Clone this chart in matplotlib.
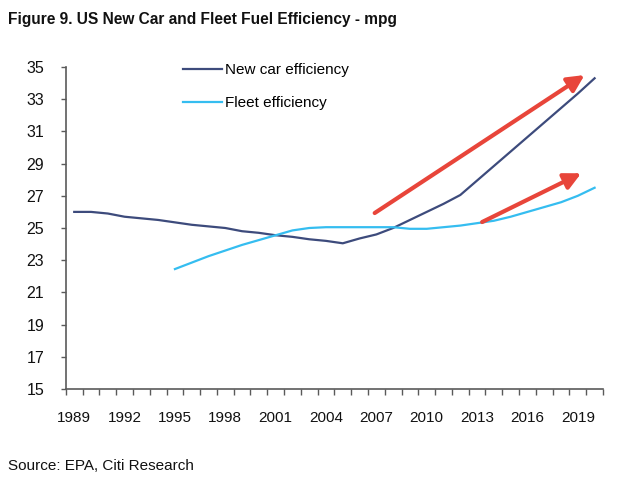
import matplotlib
matplotlib.use("Agg")
import matplotlib.pyplot as plt
from matplotlib.ticker import FixedLocator, NullFormatter

plt.rcParams['font.family'] = ['Liberation Sans', 'DejaVu Sans']

years = list(range(1989, 2021))
new_car = [26.0, 26.0, 25.9, 25.7, 25.6, 25.5, 25.35, 25.2, 25.1, 25.0,
           24.8, 24.7, 24.55, 24.45, 24.3, 24.2, 24.05, 24.35, 24.6, 25.0,
           25.5, 26.0, 26.5, 27.05, 27.95, 28.85, 29.75, 30.65, 31.55, 32.45,
           33.35, 34.3]
fleet_years = list(range(1995, 2021))
fleet = [22.45, 22.85, 23.25, 23.6, 23.95, 24.25, 24.55, 24.85, 25.0, 25.05,
         25.05, 25.05, 25.05, 25.05, 24.95, 24.95, 25.05, 25.15, 25.3, 25.45,
         25.7, 26.0, 26.3, 26.6, 27.0, 27.5]
y_ticks = [15, 17, 19, 21, 23, 25, 27, 29, 31, 33, 35]
x_label_years = list(range(1989, 2021, 3))

title = "Figure 9. US New Car and Fleet Fuel Efficiency - mpg"
source = "Source: EPA, Citi Research"

navy = "#3D4B7C"
light = "#35BDF0"
red = "#E8453A"
spine_c = "#5a5a5a"

fig = plt.figure(figsize=(6.21, 4.8), dpi=100)
ax = fig.add_axes([0.106, 0.1896, 0.865, 0.6708])

ax.plot(years, new_car, color=navy, lw=1.6, label="New car efficiency")
ax.plot(fleet_years, fleet, color=light, lw=1.6, label="Fleet efficiency")

ax.set_xlim(1988.5, 2020.5)
ax.set_ylim(15, 35)

for s in ["top", "right"]:
    ax.spines[s].set_visible(False)
for s in ["left", "bottom"]:
    ax.spines[s].set_color(spine_c)
    ax.spines[s].set_linewidth(1.2)

ax.set_yticks(y_ticks)
ax.tick_params(axis="y", direction="out", length=3.5, width=1.0, color=spine_c,
               pad=12, labelsize=11.5, labelcolor="#111111")
ax.set_xticks(x_label_years)
ax.set_xticklabels([str(y) for y in x_label_years])
ax.tick_params(axis="x", which="major", length=0, pad=16, labelsize=11, labelcolor="#111111")
ax.xaxis.set_minor_locator(FixedLocator([y + 0.5 for y in range(1988, 2021)]))
ax.xaxis.set_minor_formatter(NullFormatter())
ax.tick_params(axis="x", which="minor", direction="out", length=4, width=1.0, color=spine_c)

leg = ax.legend(loc="upper left", bbox_to_anchor=(0.192, 1.055), frameon=False,
                fontsize=11, handlelength=2.6, handletextpad=0.2, labelspacing=1.25)

ax.annotate("", xy=(2019.4, 34.5), xytext=(2006.9, 25.93),
            arrowprops=dict(arrowstyle="-|>,head_length=1.0,head_width=0.5",
                            color=red, lw=3, shrinkA=0, shrinkB=0))
ax.annotate("", xy=(2019.2, 28.4), xytext=(2013.3, 25.37),
            arrowprops=dict(arrowstyle="-|>,head_length=1.0,head_width=0.5",
                            color=red, lw=3, shrinkA=0, shrinkB=0))

fig.text(0.013, 0.96, title, fontsize=11.2, fontweight="bold", ha="left", va="center",
         color="#111111")
fig.text(0.013, 0.029, source, fontsize=11, ha="left", va="center", color="#111111")

fig.savefig("out.png", dpi=100)
